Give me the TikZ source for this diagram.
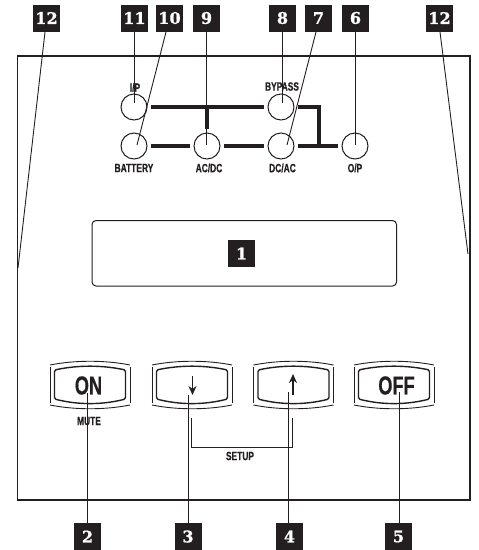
\documentclass[tikz,border=0pt]{standalone}
\usepackage{fontspec}
\usetikzlibrary{arrows.meta}
\newfontfamily\panelfont[FakeStretch=0.7,BoldFeatures={FakeBold=0.5}]{Liberation Sans}
\newfontfamily\tagfont[BoldFeatures={FakeBold=1}]{DejaVu Serif}
\definecolor{panelblack}{HTML}{231F20}
\tikzset{
  tag/.style={fill=panelblack,text=white,minimum size=27pt,inner sep=0pt,font=\tagfont\bfseries\fontsize{16}{16}\selectfont},
  lamp/.style={circle,draw=panelblack,line width=1pt,minimum size=26pt,inner sep=0pt},
  lbl/.style={text=panelblack,inner sep=0pt,font=\panelfont\bfseries\fontsize{12}{12}\selectfont},
  keytext/.style={text=panelblack,inner sep=0pt,font=\panelfont\bfseries\fontsize{26}{26}\selectfont},
  bus/.style={draw=panelblack,line width=4pt,shorten <=3.5pt,shorten >=3.5pt},
  leader/.style={draw=panelblack,line width=0.9pt},
  rim/.style={draw=panelblack,line width=0.9pt},
  keyarrow/.style={-{Stealth[length=9pt,width=8pt]},panelblack,line width=1.7pt}
}
\begin{document}
\begin{tikzpicture}[x=1pt,y=-1pt]
\useasboundingbox (0,0) rectangle (479,550);
\draw[panelblack,line width=1.1pt] (17.5,56) rectangle (470,500);
\draw[panelblack,line width=1pt,rounded corners=4pt] (92,220.5) rectangle (396.5,286);
% lamps
\foreach \n/\x/\y in {ip/134/107,batt/134/146,acdc/207/146,bypass/281/107,dcac/281/146,op/355/146}
{\node[lamp] (\n) at (\x,\y) {};}
\coordinate (busjoin) at (319,146);
\draw[bus] (ip) -- (bypass);
\draw[bus] (batt) -- (acdc);
\draw[bus] (acdc) -- (dcac);
\draw[bus] (dcac) -- (op);
\draw[bus,shorten <=4pt,shorten >=0pt] (acdc.north) -- (acdc |- ip);
\draw[bus,shorten >=0pt] (bypass) -| (busjoin);
\node[lbl] (tip) at (135,87.5) {I/P};
\node[lbl] (tbatt) at (134,168) {BATTERY};
\node[lbl] (tacdc) at (209,168) {AC/DC};
\node[lbl] (tbypass) at (282,86.5) {BYPASS};
\node[lbl] (tdcac) at (282.5,168) {DC/AC};
\node[lbl] (top) at (355,168) {O/P};
% keys
\foreach \c in {90,192,293.5,394}
{\begin{scope}[shift={(\c,385)}]
\draw[rim] (-40,-20) .. controls (-15,-25) and (15,-25) .. (40,-20);
\draw[rim] (-40,20) .. controls (-15,25) and (15,25) .. (40,20);
\draw[rim] (-40,-18) -- (-40,18);
\draw[rim] (40,-18) -- (40,18);
\draw[panelblack,line width=1.4pt,rounded corners=1.5pt] (-35.5,-15) .. controls (-12,-20) and (12,-20) .. (35.5,-15)
  -- (35.5,14) .. controls (12,20) and (-12,20) .. (-35.5,14) -- cycle;
\end{scope}}
\node[keytext] (on) at (88.5,385.5) {ON};
\node[keytext] (off) at (396.5,385.5) {OFF};
\node[lbl] (mute) at (89,421) {MUTE};
\node[lbl] (setup) at (240,456) {SETUP};
\draw[keyarrow] (192.5,375.5) -- (192.5,395);
\draw[keyarrow] (293,395) -- (293,374);
\draw[panelblack,line width=0.9pt] (191,418) |- (292,447) -- (292,418);
% number tags
\foreach \n/\t/\x/\y in {tagla/12/46.5/18,tagk/11/134.5/18,tagj/10/169.5/18,tagi/9/206.5/18,tagh/8/282.5/18,tagg/7/318.5/18,tagf/6/355.5/18,taglb/12/439.5/18,taga/1/241.5/253.5,tagb/2/87.5/536.5,tagc/3/188/536.5,tagd/4/289.5/536.5,tage/5/398.5/536.5}
{\node[tag] (\n) at (\x,\y) {\t};}
% leaders
\foreach \n/\x/\y/\a in {tagla/18/268/45,tagk/134.5/103/134.5,tagj/137/145/166,tagi/206/145/206,tagh/282/103/282,tagg/287/145/316,tagf/355/145/355,taglb/468/254/440}
{\coordinate (\n end) at (\x,\y);
\draw[leader] (\a,32) -- (\n end);}
\foreach \n/\x/\y in {tagb/87.5/393,tagc/188/395,tagd/288/392,tage/399/392}
{\coordinate (\n end) at (\x,\y);
\draw[leader] (\n.north -| \n end) -- (\n end);}
\end{tikzpicture}
\end{document}
